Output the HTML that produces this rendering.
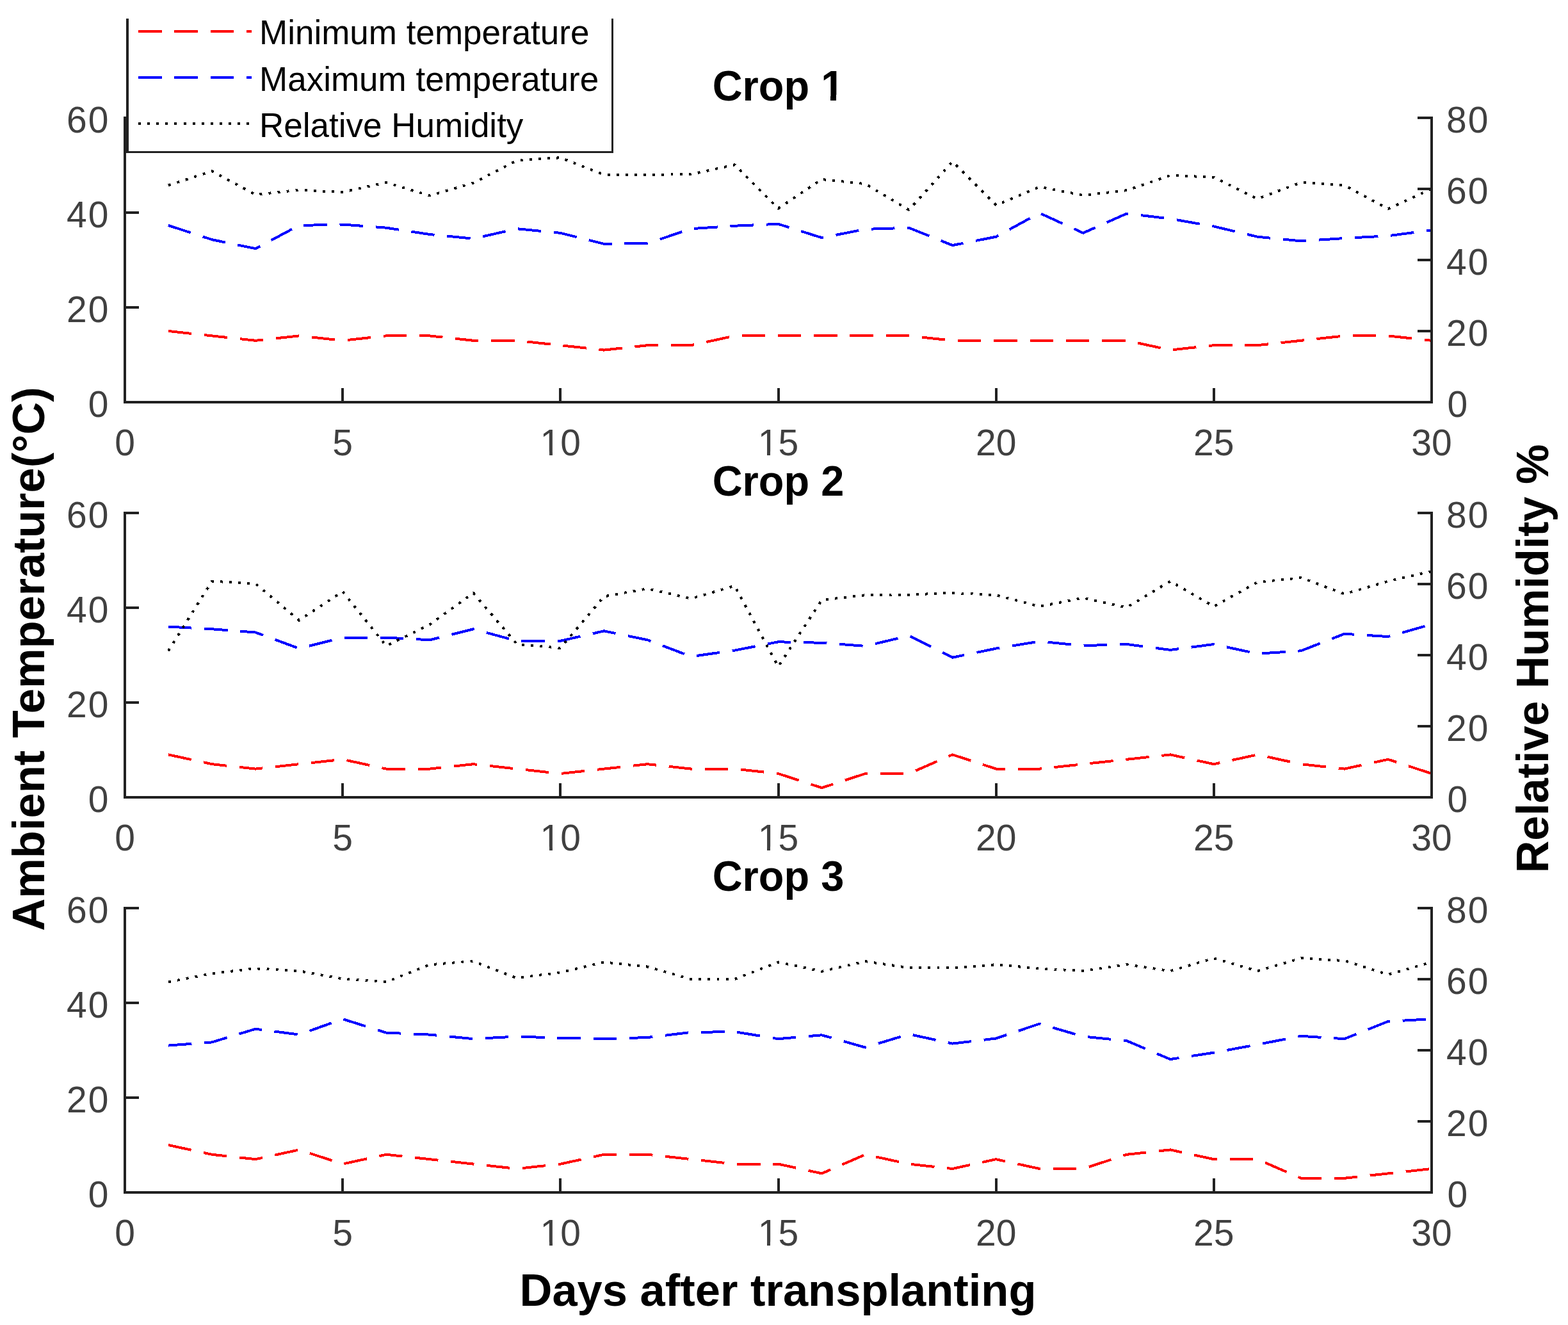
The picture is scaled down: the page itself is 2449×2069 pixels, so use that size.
<!DOCTYPE html>
<html><head><meta charset="utf-8"><title>Crop temperature and humidity</title>
<style>html,body{margin:0;padding:0;background:#fff;overflow:hidden;width:2449px;height:2069px;}svg{display:block;}text{font-family:"Liberation Sans",Arial,Helvetica,sans-serif;}.tk{font-size:57px;fill:#404040;}.tt{font-size:66.0px;font-weight:bold;fill:#000;}.lb{font-size:70.5px;font-weight:bold;fill:#000;}.lg{font-size:53.0px;fill:#000;}</style></head><body>
<svg width="2449" height="2069" viewBox="0 0 2449 2069">
<rect x="0" y="0" width="2449" height="2069" fill="#fff"/>
<path d="M263.0 517.0 L331.1 524.4 L399.1 531.8 L467.1 524.4 L535.2 531.8 L603.2 524.4 L671.2 524.4 L739.3 531.8 L807.3 531.8 L875.3 539.2 L943.4 546.6 L1011.4 539.2 L1079.4 539.2 L1147.5 524.4 L1215.5 524.4 L1283.5 524.4 L1351.6 524.4 L1419.6 524.4 L1487.6 531.8 L1555.7 531.8 L1623.7 531.8 L1691.7 531.8 L1759.8 531.8 L1827.8 546.6 L1895.8 539.2 L1963.9 539.2 L2031.9 531.8 L2099.9 524.4 L2168.0 524.4 L2236.0 531.8" fill="none" stroke="#f00" stroke-width="4" stroke-dasharray="36.5 19.8" stroke-linejoin="round" shape-rendering="crispEdges"/>
<path d="M263.0 352.0 L331.1 374.2 L399.1 388.2 L467.1 352.0 L535.2 350.5 L603.2 355.7 L671.2 366.0 L739.3 372.7 L807.3 357.2 L875.3 363.8 L943.4 380.8 L1011.4 380.1 L1079.4 357.2 L1147.5 352.7 L1215.5 349.8 L1283.5 371.2 L1351.6 357.9 L1419.6 355.7 L1487.6 383.1 L1555.7 369.7 L1623.7 332.7 L1691.7 363.8 L1759.8 333.5 L1827.8 341.6 L1895.8 353.5 L1963.9 369.7 L2031.9 376.4 L2099.9 372.0 L2168.0 368.3 L2236.0 359.4" fill="none" stroke="#00f" stroke-width="4" stroke-dasharray="36.5 19.8" stroke-linejoin="round" shape-rendering="crispEdges"/>
<path d="M263.0 289.4 L331.1 267.2 L399.1 303.9 L467.1 296.7 L535.2 300.0 L603.2 285.0 L671.2 305.5 L739.3 285.6 L807.3 250.6 L875.3 246.2 L943.4 272.8 L1011.4 272.8 L1079.4 272.2 L1147.5 257.3 L1215.5 325.5 L1283.5 280.0 L1351.6 287.2 L1419.6 327.7 L1487.6 252.3 L1555.7 320.5 L1623.7 291.7 L1691.7 305.0 L1759.8 297.2 L1827.8 273.9 L1895.8 276.7 L1963.9 310.5 L2031.9 285.0 L2099.9 289.4 L2168.0 326.1 L2236.0 295.0" fill="none" stroke="#000" stroke-width="4" stroke-dasharray="3.9 10.22" stroke-linejoin="round" shape-rendering="crispEdges"/>
<path d="M195.0 184.0 V628.0 H2236.0 V184.0" fill="none" stroke="#212121" stroke-width="4" stroke-linecap="square" shape-rendering="crispEdges"/>
<path d="M195.0 628.0 V606.0 M535.0 628.0 V606.0 M875.0 628.0 V606.0 M1216.0 628.0 V606.0 M1556.0 628.0 V606.0 M1896.0 628.0 V606.0 M2236.0 628.0 V606.0 M195.0 628.0 H217.0 M195.0 480.0 H217.0 M195.0 332.0 H217.0 M195.0 184.0 H217.0 M2236.0 628.0 H2214.0 M2236.0 517.0 H2214.0 M2236.0 406.0 H2214.0 M2236.0 295.0 H2214.0 M2236.0 184.0 H2214.0" stroke="#212121" stroke-width="4" fill="none" shape-rendering="crispEdges"/>
<text class="tk" x="195.0" y="711.0" text-anchor="middle">0</text>
<text class="tk" x="535.2" y="711.0" text-anchor="middle">5</text>
<text class="tk" x="875.3" y="711.0" text-anchor="middle">10</text>
<path d="M846.47 705.24H857.97V713.00H846.47Z M863.00 705.24H874.05V713.00H863.00Z" fill="#fff" shape-rendering="crispEdges"/>
<text class="tk" x="1215.5" y="711.0" text-anchor="middle">15</text>
<path d="M1186.64 705.24H1198.13V713.00H1186.64Z M1203.17 705.24H1214.22V713.00H1203.17Z" fill="#fff" shape-rendering="crispEdges"/>
<text class="tk" x="1555.7" y="711.0" text-anchor="middle">20</text>
<text class="tk" x="1895.8" y="711.0" text-anchor="middle">25</text>
<text class="tk" x="2236.0" y="711.0" text-anchor="middle">30</text>
<text class="tk" x="169.5" y="650.5" text-anchor="end">0</text>
<text class="tk" x="169.5" y="502.5" text-anchor="end" dx="0 2">20</text>
<text class="tk" x="169.5" y="354.5" text-anchor="end" dx="0 2">40</text>
<text class="tk" x="169.5" y="206.5" text-anchor="end" dx="0 2">60</text>
<text class="tk" x="2260.5" y="650.5">0</text>
<text class="tk" x="2259.0" y="539.5" dx="0 2">20</text>
<text class="tk" x="2259.0" y="428.5" dx="0 2">40</text>
<text class="tk" x="2259.0" y="317.5" dx="0 2">60</text>
<text class="tk" x="2259.0" y="206.5" dx="0 2">80</text>
<g transform="translate(1215.5 156.7) scale(0.984 1)"><text class="tt" x="0" y="0" text-anchor="middle">Crop 1</text>
<path d="M70.46 -8.24H83.21V2.00H70.46Z M92.26 -8.24H104.17V2.00H92.26Z" fill="#fff" shape-rendering="crispEdges"/>
</g>
<path d="M263.0 1178.4 L331.1 1193.2 L399.1 1200.6 L467.1 1193.2 L535.2 1185.8 L603.2 1200.6 L671.2 1200.6 L739.3 1193.2 L807.3 1200.6 L875.3 1208.0 L943.4 1200.6 L1011.4 1193.2 L1079.4 1200.6 L1147.5 1200.6 L1215.5 1208.0 L1283.5 1230.2 L1351.6 1208.0 L1419.6 1208.0 L1487.6 1178.4 L1555.7 1200.6 L1623.7 1200.6 L1691.7 1193.2 L1759.8 1185.8 L1827.8 1178.4 L1895.8 1193.2 L1963.9 1178.4 L2031.9 1193.2 L2099.9 1200.6 L2168.0 1185.8 L2236.0 1208.0" fill="none" stroke="#f00" stroke-width="4" stroke-dasharray="36.5 19.8" stroke-linejoin="round" shape-rendering="crispEdges"/>
<path d="M263.0 978.6 L331.1 982.3 L399.1 987.5 L467.1 1012.6 L535.2 995.6 L603.2 995.6 L671.2 999.3 L739.3 982.3 L807.3 1000.8 L875.3 1000.8 L943.4 985.3 L1011.4 999.3 L1079.4 1025.2 L1147.5 1015.6 L1215.5 1002.3 L1283.5 1003.8 L1351.6 1008.9 L1419.6 992.7 L1487.6 1026.7 L1555.7 1012.6 L1623.7 1001.5 L1691.7 1008.2 L1759.8 1006.0 L1827.8 1014.9 L1895.8 1006.0 L1963.9 1020.8 L2031.9 1016.3 L2099.9 989.7 L2168.0 994.1 L2236.0 974.9" fill="none" stroke="#00f" stroke-width="4" stroke-dasharray="36.5 19.8" stroke-linejoin="round" shape-rendering="crispEdges"/>
<path d="M263.0 1016.3 L331.1 907.6 L399.1 911.4 L467.1 968.6 L535.2 923.7 L603.2 1008.6 L671.2 975.3 L739.3 925.9 L807.3 1005.8 L875.3 1011.9 L943.4 931.4 L1011.4 919.2 L1079.4 934.8 L1147.5 914.8 L1215.5 1040.8 L1283.5 937.0 L1351.6 929.2 L1419.6 928.6 L1487.6 925.9 L1555.7 929.2 L1623.7 947.0 L1691.7 933.6 L1759.8 948.6 L1827.8 907.6 L1895.8 947.0 L1963.9 909.2 L2031.9 902.0 L2099.9 927.5 L2168.0 907.6 L2236.0 892.0" fill="none" stroke="#000" stroke-width="4" stroke-dasharray="3.9 10.22" stroke-linejoin="round" shape-rendering="crispEdges"/>
<path d="M195.0 801.0 V1245.0 H2236.0 V801.0" fill="none" stroke="#212121" stroke-width="4" stroke-linecap="square" shape-rendering="crispEdges"/>
<path d="M195.0 1245.0 V1223.0 M535.0 1245.0 V1223.0 M875.0 1245.0 V1223.0 M1216.0 1245.0 V1223.0 M1556.0 1245.0 V1223.0 M1896.0 1245.0 V1223.0 M2236.0 1245.0 V1223.0 M195.0 1245.0 H217.0 M195.0 1097.0 H217.0 M195.0 949.0 H217.0 M195.0 801.0 H217.0 M2236.0 1245.0 H2214.0 M2236.0 1134.0 H2214.0 M2236.0 1023.0 H2214.0 M2236.0 912.0 H2214.0 M2236.0 801.0 H2214.0" stroke="#212121" stroke-width="4" fill="none" shape-rendering="crispEdges"/>
<text class="tk" x="195.0" y="1328.0" text-anchor="middle">0</text>
<text class="tk" x="535.2" y="1328.0" text-anchor="middle">5</text>
<text class="tk" x="875.3" y="1328.0" text-anchor="middle">10</text>
<path d="M846.47 1322.24H857.97V1330.00H846.47Z M863.00 1322.24H874.05V1330.00H863.00Z" fill="#fff" shape-rendering="crispEdges"/>
<text class="tk" x="1215.5" y="1328.0" text-anchor="middle">15</text>
<path d="M1186.64 1322.24H1198.13V1330.00H1186.64Z M1203.17 1322.24H1214.22V1330.00H1203.17Z" fill="#fff" shape-rendering="crispEdges"/>
<text class="tk" x="1555.7" y="1328.0" text-anchor="middle">20</text>
<text class="tk" x="1895.8" y="1328.0" text-anchor="middle">25</text>
<text class="tk" x="2236.0" y="1328.0" text-anchor="middle">30</text>
<text class="tk" x="169.5" y="1267.5" text-anchor="end">0</text>
<text class="tk" x="169.5" y="1119.5" text-anchor="end" dx="0 2">20</text>
<text class="tk" x="169.5" y="971.5" text-anchor="end" dx="0 2">40</text>
<text class="tk" x="169.5" y="823.5" text-anchor="end" dx="0 2">60</text>
<text class="tk" x="2260.5" y="1267.5">0</text>
<text class="tk" x="2259.0" y="1156.5" dx="0 2">20</text>
<text class="tk" x="2259.0" y="1045.5" dx="0 2">40</text>
<text class="tk" x="2259.0" y="934.5" dx="0 2">60</text>
<text class="tk" x="2259.0" y="823.5" dx="0 2">80</text>
<g transform="translate(1215.5 773.7) scale(0.984 1)"><text class="tt" x="0" y="0" text-anchor="middle">Crop 2</text>
</g>
<path d="M263.0 1788.0 L331.1 1802.8 L399.1 1810.2 L467.1 1795.4 L535.2 1817.6 L603.2 1802.8 L671.2 1810.2 L739.3 1817.6 L807.3 1825.0 L875.3 1817.6 L943.4 1802.8 L1011.4 1802.8 L1079.4 1810.2 L1147.5 1817.6 L1215.5 1817.6 L1283.5 1832.4 L1351.6 1802.8 L1419.6 1817.6 L1487.6 1825.0 L1555.7 1810.2 L1623.7 1825.0 L1691.7 1825.0 L1759.8 1802.8 L1827.8 1795.4 L1895.8 1810.2 L1963.9 1810.2 L2031.9 1839.8 L2099.9 1839.8 L2168.0 1832.4 L2236.0 1825.0" fill="none" stroke="#f00" stroke-width="4" stroke-dasharray="36.5 19.8" stroke-linejoin="round" shape-rendering="crispEdges"/>
<path d="M263.0 1632.6 L331.1 1627.4 L399.1 1606.7 L467.1 1615.6 L535.2 1591.2 L603.2 1612.6 L671.2 1615.6 L739.3 1622.2 L807.3 1618.5 L875.3 1620.8 L943.4 1622.2 L1011.4 1620.0 L1079.4 1611.9 L1147.5 1611.1 L1215.5 1622.2 L1283.5 1616.3 L1351.6 1635.6 L1419.6 1614.8 L1487.6 1629.6 L1555.7 1621.5 L1623.7 1598.6 L1691.7 1618.5 L1759.8 1625.2 L1827.8 1654.1 L1895.8 1643.7 L1963.9 1631.1 L2031.9 1617.8 L2099.9 1622.2 L2168.0 1594.9 L2236.0 1591.2" fill="none" stroke="#00f" stroke-width="4" stroke-dasharray="36.5 19.8" stroke-linejoin="round" shape-rendering="crispEdges"/>
<path d="M263.0 1533.4 L331.1 1520.1 L399.1 1512.3 L467.1 1516.2 L535.2 1528.4 L603.2 1533.4 L671.2 1506.2 L739.3 1501.2 L807.3 1527.3 L875.3 1518.5 L943.4 1502.4 L1011.4 1509.6 L1079.4 1529.0 L1147.5 1529.0 L1215.5 1502.4 L1283.5 1516.8 L1351.6 1501.2 L1419.6 1511.2 L1487.6 1511.2 L1555.7 1506.2 L1623.7 1512.3 L1691.7 1516.2 L1759.8 1506.2 L1827.8 1516.2 L1895.8 1496.3 L1963.9 1516.2 L2031.9 1496.3 L2099.9 1500.1 L2168.0 1521.8 L2236.0 1502.4" fill="none" stroke="#000" stroke-width="4" stroke-dasharray="3.9 10.22" stroke-linejoin="round" shape-rendering="crispEdges"/>
<path d="M195.0 1418.0 V1862.0 H2236.0 V1418.0" fill="none" stroke="#212121" stroke-width="4" stroke-linecap="square" shape-rendering="crispEdges"/>
<path d="M195.0 1862.0 V1840.0 M535.0 1862.0 V1840.0 M875.0 1862.0 V1840.0 M1216.0 1862.0 V1840.0 M1556.0 1862.0 V1840.0 M1896.0 1862.0 V1840.0 M2236.0 1862.0 V1840.0 M195.0 1862.0 H217.0 M195.0 1714.0 H217.0 M195.0 1566.0 H217.0 M195.0 1418.0 H217.0 M2236.0 1862.0 H2214.0 M2236.0 1751.0 H2214.0 M2236.0 1640.0 H2214.0 M2236.0 1529.0 H2214.0 M2236.0 1418.0 H2214.0" stroke="#212121" stroke-width="4" fill="none" shape-rendering="crispEdges"/>
<text class="tk" x="195.0" y="1945.0" text-anchor="middle">0</text>
<text class="tk" x="535.2" y="1945.0" text-anchor="middle">5</text>
<text class="tk" x="875.3" y="1945.0" text-anchor="middle">10</text>
<path d="M846.47 1939.24H857.97V1947.00H846.47Z M863.00 1939.24H874.05V1947.00H863.00Z" fill="#fff" shape-rendering="crispEdges"/>
<text class="tk" x="1215.5" y="1945.0" text-anchor="middle">15</text>
<path d="M1186.64 1939.24H1198.13V1947.00H1186.64Z M1203.17 1939.24H1214.22V1947.00H1203.17Z" fill="#fff" shape-rendering="crispEdges"/>
<text class="tk" x="1555.7" y="1945.0" text-anchor="middle">20</text>
<text class="tk" x="1895.8" y="1945.0" text-anchor="middle">25</text>
<text class="tk" x="2236.0" y="1945.0" text-anchor="middle">30</text>
<text class="tk" x="169.5" y="1884.5" text-anchor="end">0</text>
<text class="tk" x="169.5" y="1736.5" text-anchor="end" dx="0 2">20</text>
<text class="tk" x="169.5" y="1588.5" text-anchor="end" dx="0 2">40</text>
<text class="tk" x="169.5" y="1440.5" text-anchor="end" dx="0 2">60</text>
<text class="tk" x="2260.5" y="1884.5">0</text>
<text class="tk" x="2259.0" y="1773.5" dx="0 2">20</text>
<text class="tk" x="2259.0" y="1662.5" dx="0 2">40</text>
<text class="tk" x="2259.0" y="1551.5" dx="0 2">60</text>
<text class="tk" x="2259.0" y="1440.5" dx="0 2">80</text>
<g transform="translate(1215.5 1390.7) scale(0.984 1)"><text class="tt" x="0" y="0" text-anchor="middle">Crop 3</text>
</g>
<text class="lb" x="0" y="0" text-anchor="middle" transform="translate(69 1029) rotate(-90)">Ambient Temperature(°C)</text>
<text class="lb" x="0" y="0" text-anchor="middle" transform="translate(2418 1028.5) rotate(-90) scale(0.994 1)">Relative Humidity %</text>
<text class="lb" x="1215" y="2039" text-anchor="middle">Days after transplanting</text>
<rect x="199" y="29" width="757" height="208" fill="#fff"/>
<path d="M197 29h4v207h754v-207h3v210h-761z" fill="#212121"/>
<path d="M216 49 H393" stroke="#f00" stroke-width="4" stroke-dasharray="36.5 19.8" shape-rendering="crispEdges"/>
<path d="M216 121 H393" stroke="#00f" stroke-width="4" stroke-dasharray="36.5 19.8" shape-rendering="crispEdges"/>
<path d="M216 193 H393" stroke="#000" stroke-width="4" stroke-dasharray="3.9 10.22" shape-rendering="crispEdges"/>
<text class="lg" x="405" y="69">Minimum temperature</text>
<text class="lg" x="405" y="142">Maximum temperature</text>
<text class="lg" x="405" y="214">Relative Humidity</text>
</svg></body></html>
